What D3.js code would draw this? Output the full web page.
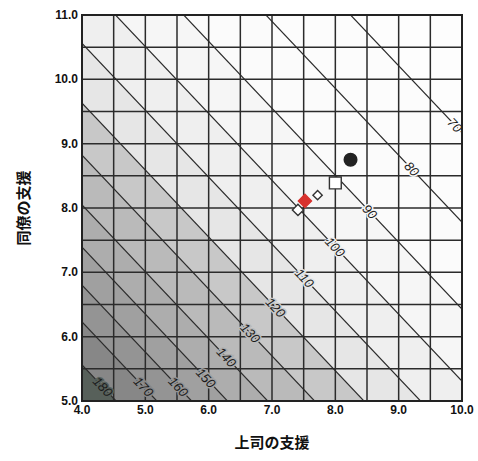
<!DOCTYPE html>
<html><head><meta charset="utf-8">
<script src="https://cdn.jsdelivr.net/npm/d3@7"></script>
<style>body{margin:0;background:#fff}</style>
</head><body><svg id="c" width="478" height="461"></svg>
<script>
// ---- data ----
const levels = [70,80,90,100,110,120,130,140,150,160,170,180];
// each contour line: contourSlope*x + y = intercept (data units)
const levelIntercepts = [19.57,18.18,16.83,15.71,14.72,13.79,12.98,12.21,11.55,10.96,10.39,9.72];
const contourSlope = 1.04;
const xTicks = [4,5,6,7,8,9,10];
const yTicks = [5,6,7,8,9,10,11];
const xTickLabels = ["4.0","5.0","6.0","7.0","8.0","9.0","10.0"];
const yTickLabels = ["5.0","6.0","7.0","8.0","9.0","10.0","11.0"];
const gridX = [4,4.5,5,5.5,6,6.5,7,7.5,8,8.5,9,9.5,10];
const gridY = [5,5.5,6,6.5,7,7.5,8,8.5,9,9.5,10,10.5,11];
const pointX = [8.24, 8.0, 7.41, 7.52, 7.72];
const pointY = [8.75, 8.39, 7.97, 8.11, 8.20];
const pointSymbol = ["circle","square","diamond","diamond","diamond"];
const xTitle = "上司の支援";
const yTitle = "同僚の支援";

// ---- layout / style ----
const L = 82, T = 15, W = 380, H = 386;
const bandFill = ["#fdfdfd","#fcfcfc","#fbfbfb","#f6f6f6","#efefef","#e6e6e6",
                  "#c8c8c8","#bababa","#adadad","#a0a0a0","#949494","#878787","#57605a"];
const pointFill = ["#222","#fff","#fff","#d8322e","#fff"];
const pointStroke = ["#222","#333","#333","#d8322e","#333"];
const pointSize = [125, 140, 80, 110, 55];

const svg = d3.select("#c");
const x = d3.scaleLinear().domain([4,10]).range([L, L+W]);
const y = d3.scaleLinear().domain([5,11]).range([T+H, T]);

svg.append("defs").append("clipPath").attr("id","plot")
  .append("rect").attr("x",L).attr("y",T).attr("width",W).attr("height",H);

const g = svg.append("g").attr("clip-path","url(#plot)");

// bands
const bounds = [40].concat(levelIntercepts).concat([-20]);
const line = d3.line().x(d=>x(d[0])).y(d=>y(d[1]));
for (let i = 0; i < bounds.length-1; i++) {
  const hi = bounds[i], lo = bounds[i+1];
  const poly = [[2, hi - contourSlope*2],[12, hi - contourSlope*12],
                [12, lo - contourSlope*12],[2, lo - contourSlope*2]];
  g.append("path").attr("d", line(poly)+"Z").attr("fill", bandFill[i]).attr("stroke","none");
}

// grid
g.selectAll(".gx").data(gridX).enter().append("line")
  .attr("x1",d=>x(d)).attr("x2",d=>x(d)).attr("y1",T).attr("y2",T+H)
  .attr("stroke","#2b2b2b").attr("stroke-width",1.5);
g.selectAll(".gy").data(gridY).enter().append("line")
  .attr("y1",d=>y(d)).attr("y2",d=>y(d)).attr("x1",L).attr("x2",L+W)
  .attr("stroke","#2b2b2b").attr("stroke-width",1.5);

// contour lines
levelIntercepts.forEach(c => {
  g.append("path").attr("d", line([[2, c-contourSlope*2],[12, c-contourSlope*12]]))
    .attr("stroke","#2a2a2a").attr("stroke-width",1.2).attr("fill","none");
});

// contour labels
const ang = Math.atan(contourSlope * (H/6) / (W/6)) * 180/Math.PI;
levels.forEach((v,i) => {
  const c = levelIntercepts[i];
  let lx = (c + 0.6) / (1 + contourSlope), ly = lx - 0.6;
  if (ly < 5.22) { ly = 5.22; lx = (c - ly) / contourSlope; }
  g.append("text").attr("transform",`translate(${x(lx)},${y(ly)}) rotate(${ang})`)
    .attr("text-anchor","middle").attr("dominant-baseline","central")
    .attr("font-family","Liberation Sans, Arial, sans-serif").attr("font-size",13)
    .attr("font-style","italic")
    .attr("fill","#1a1a1a").attr("stroke", bandFill[i+1]).attr("stroke-width",3)
    .attr("paint-order","stroke")
    .text(v);
});

// points
pointX.forEach((px,i) => {
  const type = pointSymbol[i]==="circle"?d3.symbolCircle:(pointSymbol[i]==="square"?d3.symbolSquare:d3.symbolDiamond2);
  svg.append("path").attr("d", d3.symbol().type(type).size(pointSize[i])())
    .attr("transform",`translate(${x(px)},${y(pointY[i])})`)
    .attr("fill",pointFill[i]).attr("stroke",pointStroke[i]).attr("stroke-width",1.4);
});

// frame
svg.append("rect").attr("x",L).attr("y",T).attr("width",W).attr("height",H)
  .attr("fill","none").attr("stroke","#222").attr("stroke-width",2);

// tick labels
const tf = "Liberation Sans, Arial, sans-serif";
svg.selectAll(".xt").data(xTicks).enter().append("text")
  .attr("x",d=>x(d)).attr("y",414).attr("text-anchor","middle")
  .attr("font-family",tf).attr("font-weight","bold").attr("font-size",12)
  .attr("fill","#111").text((d,i)=>xTickLabels[i]);
svg.selectAll(".yt").data(yTicks).enter().append("text")
  .attr("x",78).attr("y",d=>y(d)).attr("text-anchor","end").attr("dominant-baseline","central")
  .attr("font-family",tf).attr("font-weight","bold").attr("font-size",12)
  .attr("fill","#111").text((d,i)=>yTickLabels[i]);

// titles
svg.append("text").attr("x", L+W/2).attr("y", 448).attr("text-anchor","middle")
  .attr("font-family","Noto Sans CJK JP, sans-serif").attr("font-weight","bold")
  .attr("font-size",15).attr("fill","#111").text(xTitle);
svg.append("text").attr("transform",`translate(22,${T+H/2}) rotate(-90)`)
  .attr("text-anchor","middle").attr("dominant-baseline","central")
  .attr("font-family","Noto Sans CJK JP, sans-serif").attr("font-weight","bold")
  .attr("font-size",15).attr("fill","#111").text(yTitle);
</script></body></html>
